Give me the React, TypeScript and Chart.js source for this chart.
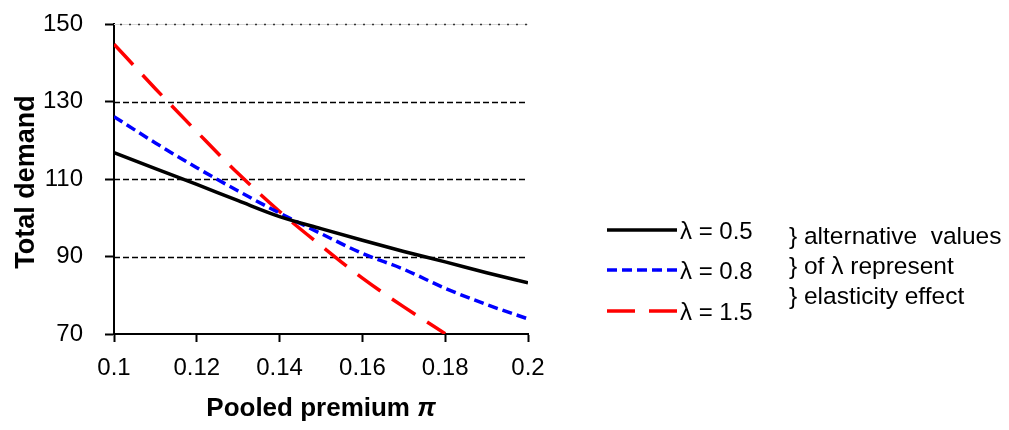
import { useEffect, useRef } from 'react';
import { Chart, registerables } from 'chart.js';

Chart.register(...registerables);

// ---- Data ----
const premiums = [0.1, 0.11, 0.12, 0.13, 0.14, 0.15, 0.16, 0.17, 0.18, 0.19, 0.2];
const demandLambda05 = [116.8, 112.7, 108.6, 104.4, 100.3, 97.2, 94.2, 91.3, 88.6, 85.8, 83.2];
const demandLambda08 = [126.1, 119.3, 112.9, 106.9, 101.2, 95.9, 90.8, 86.7, 81.8, 77.6, 73.9];
const demandLambda15 = [144.8, 133.3, 122.2, 111.4, 101.6, 92.8, 84.4, 77.0, 70.1];
const seriesLabels = ['λ = 0.5', 'λ = 0.8', 'λ = 1.5'];
const xTicks = [0.1, 0.12, 0.14, 0.16, 0.18, 0.2];
const xTickLabels = ['0.1', '0.12', '0.14', '0.16', '0.18', '0.2'];
const yTicks = [70, 90, 110, 130, 150];
const yGridDashed = [90, 110, 130];
const yGridDotted = [150];
const noteLines = ['} alternative  values', '} of λ represent', '} elasticity effect'];
const xTitle = 'Pooled premium ';
const xTitleSymbol = 'π';
const yTitle = 'Total demand';

const FONT = '"Liberation Sans", Arial, Helvetica, sans-serif';

const toPoints = (ys: number[]) => ys.map((y, i) => ({ x: premiums[i], y }));

const decorPlugin = {
  id: 'decor',
  beforeDatasetsDraw(chart: any) {
    const { ctx, chartArea, scales } = chart;
    const y = scales.y;
    ctx.save();
    ctx.strokeStyle = '#000';
    ctx.lineWidth = 1.3;
    ctx.setLineDash([6, 3]);
    yGridDashed.forEach((v) => {
      const py = Math.round(y.getPixelForValue(v)) + 0.5;
      ctx.beginPath();
      ctx.moveTo(chartArea.left, py);
      ctx.lineTo(chartArea.right, py);
      ctx.stroke();
    });
    yGridDotted.forEach((v) => {
      const py = Math.round(y.getPixelForValue(v)) + 0.5;
      ctx.setLineDash([]);
      ctx.strokeStyle = '#d8d8d8';
      ctx.lineWidth = 1;
      ctx.beginPath();
      ctx.moveTo(chartArea.left, py);
      ctx.lineTo(chartArea.right, py);
      ctx.stroke();
      ctx.strokeStyle = '#333';
      ctx.lineWidth = 1.6;
      ctx.setLineDash([2, 7]);
      ctx.beginPath();
      ctx.moveTo(chartArea.left + 6, py);
      ctx.lineTo(chartArea.right, py);
      ctx.stroke();
    });
    ctx.restore();
  },
  afterDraw(chart: any) {
    const { ctx, chartArea } = chart;
    ctx.save();
    ctx.fillStyle = '#000';
    ctx.font = `bold 27px ${FONT}`;
    ctx.textAlign = 'center';
    ctx.textBaseline = 'middle';
    ctx.save();
    ctx.translate(27, (chartArea.top + chartArea.bottom) / 2 + 3);
    ctx.rotate(-Math.PI / 2);
    ctx.fillText(yTitle, 0, 0);
    ctx.restore();

    ctx.font = `bold 26px ${FONT}`;
    const w1 = ctx.measureText(xTitle).width;
    ctx.font = `italic bold 26px ${FONT}`;
    const w2 = ctx.measureText(xTitleSymbol).width;
    const cx = (chartArea.left + chartArea.right) / 2;
    const startX = cx - (w1 + w2) / 2;
    ctx.textAlign = 'left';
    ctx.font = `bold 26px ${FONT}`;
    ctx.fillText(xTitle, startX, 409);
    ctx.font = `italic bold 26px ${FONT}`;
    ctx.fillText(xTitleSymbol, startX + w1, 409);

    const legendYs = [230, 270, 311];
    const lx0 = 607;
    const lx1 = 677;
    chart.data.datasets.forEach((ds: any, i: number) => {
      const ly = legendYs[i];
      ctx.save();
      ctx.strokeStyle = ds.borderColor;
      ctx.lineWidth = ds.borderWidth;
      ctx.setLineDash(ds.borderDash || []);
      ctx.beginPath();
      ctx.moveTo(lx0, ly);
      ctx.lineTo(lx1, ly);
      ctx.stroke();
      ctx.restore();
      ctx.font = `24px ${FONT}`;
      ctx.textAlign = 'left';
      ctx.textBaseline = 'middle';
      ctx.fillStyle = '#000';
      ctx.fillText(ds.label, 680, ly + 2);
    });
    const noteYs = [237, 267, 297];
    ctx.font = `24.5px ${FONT}`;
    noteLines.forEach((t, i) => {
      ctx.fillText(t, 789, noteYs[i]);
    });
    ctx.restore();
  },
};

export default function App() {
  const ref = useRef<HTMLCanvasElement | null>(null);
  useEffect(() => {
    if (!ref.current) return;
    const chart = new Chart(ref.current, {
      type: 'line',
      data: {
        datasets: [
          {
            label: seriesLabels[0],
            data: toPoints(demandLambda05),
            borderColor: '#000000',
            borderWidth: 3.5,
            pointRadius: 0,
            cubicInterpolationMode: 'monotone',
            fill: false,
          },
          {
            label: seriesLabels[1],
            data: toPoints(demandLambda08),
            borderColor: '#0000ff',
            borderWidth: 3.5,
            borderDash: [10, 5],
            pointRadius: 0,
            cubicInterpolationMode: 'monotone',
            fill: false,
          },
          {
            label: seriesLabels[2],
            data: toPoints(demandLambda15),
            borderColor: '#ff0000',
            borderWidth: 3.5,
            borderDash: [28, 14],
            pointRadius: 0,
            cubicInterpolationMode: 'monotone',
            fill: false,
          },
        ],
      },
      options: {
        animation: false,
        responsive: true,
        maintainAspectRatio: false,
        layout: { padding: { left: 0, top: 24, right: 481, bottom: 0 } },
        plugins: { legend: { display: false }, tooltip: { enabled: false } },
        scales: {
          x: {
            type: 'linear',
            min: 0.1,
            max: 0.2,
            afterBuildTicks: (s: any) => {
              s.ticks = xTicks.map((v) => ({ value: v }));
            },
            afterFit: (s: any) => {
              s.height = 96;
              s.paddingLeft = 0;
              s.paddingRight = 0;
            },
            ticks: {
              callback: (_v: any, i: number) => xTickLabels[i],
              font: { family: FONT, size: 24 },
              color: '#000',
              padding: 12,
              maxRotation: 0,
              autoSkip: false,
            },
            grid: {
              drawOnChartArea: false,
              drawTicks: true,
              tickLength: 8,
              tickColor: '#000',
              tickWidth: 2,
            },
            border: { display: true, color: '#000', width: 2 },
          },
          y: {
            type: 'linear',
            min: 70,
            max: 150,
            afterBuildTicks: (s: any) => {
              s.ticks = yTicks.map((v) => ({ value: v }));
            },
            afterFit: (s: any) => {
              s.width = 114;
              s.paddingTop = 0;
              s.paddingBottom = 0;
            },
            ticks: {
              font: { family: FONT, size: 24 },
              color: '#000',
              padding: 22,
            },
            grid: {
              drawOnChartArea: false,
              drawTicks: true,
              tickLength: 9,
              tickColor: '#000',
              tickWidth: 2,
            },
            border: { display: true, color: '#000', width: 2 },
          },
        },
      },
      plugins: [decorPlugin],
    });
    return () => chart.destroy();
  }, []);
  return (
    <div style={{ position: 'absolute', left: 0, top: 0, width: 1009, height: 430, background: '#fff' }}>
      <canvas ref={ref} />
    </div>
  );
}
